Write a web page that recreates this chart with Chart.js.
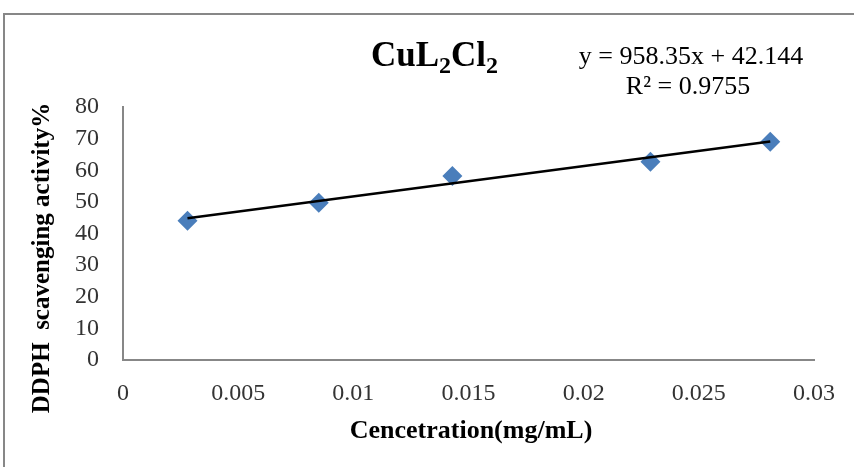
<!DOCTYPE html>
<html>
<head>
<meta charset="utf-8">
<script src="https://cdn.jsdelivr.net/npm/chart.js@4.4.1/dist/chart.umd.min.js"></script>
<style>
	html, body { margin: 0; padding: 0; background: #fff; }
	#wrap { position: relative; width: 854px; height: 467px; overflow: hidden; }
</style>
</head>
<body>
<div id="wrap"><canvas id="chart" width="854" height="467"></canvas></div>
<script>
// Values.
const concentrations = [ 0.0028, 0.0085, 0.0143, 0.0229, 0.0281 ];
const scavenging = [ 44.0, 49.7, 58.2, 62.7, 69.0 ];
const xTickValues = [ 0, 0.005, 0.01, 0.015, 0.02, 0.025, 0.03 ];
const yTickValues = [ 0, 10, 20, 30, 40, 50, 60, 70, 80 ];

// Trendline as printed on the chart.
const slope = 958.35;
const intercept = 42.144;
const equationText = 'y = 958.35x + 42.144';
const rSquaredText = 'R² = 0.9755';

const serif = "'Liberation Serif', 'Times New Roman', serif";
const axisGray = '#878787';
const markerBlue = '#4a7ebb';

const points = concentrations.map( ( x, i ) => ( { x: x, y: scavenging[ i ] } ) );
const xFirst = concentrations[ 0 ];
const xLast = concentrations[ concentrations.length - 1 ];
const trendPoints = [
	{ x: xFirst, y: slope * xFirst + intercept },
	{ x: xLast, y: slope * xLast + intercept }
];

// Frame and the texts Excel puts around the plot.
const decorPlugin = {
	id: 'decor',
	beforeDraw( chart ) {
		const ctx = chart.ctx;
		ctx.save();
		ctx.fillStyle = '#fff';
		ctx.fillRect( 0, 0, chart.width, chart.height );
		ctx.strokeStyle = axisGray;
		ctx.lineWidth = 2;
		ctx.beginPath();
		ctx.moveTo( 4, chart.height + 5 );
		ctx.lineTo( 4, 14 );
		ctx.lineTo( chart.width + 5, 14 );
		ctx.stroke();
		ctx.restore();
	},
	afterDraw( chart ) {
		const ctx = chart.ctx;
		ctx.save();
		ctx.fillStyle = '#000';
		ctx.textBaseline = 'alphabetic';

		// Title CuL2Cl2 with subscripts.
		const big = 'bold 35px ' + serif;
		const small = 'bold 24px ' + serif;
		let x = 371;
		const base = 66;
		const parts = [ [ 'CuL', big, 0 ], [ '2', small, 7 ], [ 'Cl', big, 0 ], [ '2', small, 7 ] ];
		parts.forEach( ( p ) => {
			ctx.font = p[ 1 ];
			ctx.textAlign = 'left';
			ctx.fillText( p[ 0 ], x, base + p[ 2 ] );
			x += ctx.measureText( p[ 0 ] ).width;
		} );

		// Trendline equation.
		ctx.font = '26px ' + serif;
		ctx.textAlign = 'center';
		ctx.fillText( equationText, 691, 64 );
		ctx.fillText( rSquaredText, 688, 94 );

		// Axis titles.
		ctx.font = 'bold 26px ' + serif;
		ctx.fillText( 'Cencetration(mg/mL)', 471, 438 );

		ctx.translate( 49, 258 );
		ctx.rotate( -Math.PI / 2 );
		ctx.font = 'bold 25px ' + serif;
		ctx.fillText( 'DDPH  scavenging activity%', 0, 0 );
		ctx.restore();
	}
};

new Chart( document.getElementById( 'chart' ), {
	type: 'scatter',
	data: {
		datasets: [
			{
				label: 'CuL2Cl2',
				data: points,
				order: 1,
				pointStyle: 'rectRot',
				pointRadius: 10,
				pointBackgroundColor: markerBlue,
				pointBorderColor: markerBlue,
				pointBorderWidth: 0
			},
			{
				type: 'line',
				label: 'Linear',
				data: trendPoints,
				order: 0,
				borderColor: '#000',
				borderWidth: 2.5,
				pointRadius: 0,
				fill: false
			}
		]
	},
	options: {
		responsive: false,
		animation: false,
		devicePixelRatio: 1,
		layout: {
			padding: { top: 107, right: 39, bottom: 0, left: 0 }
		},
		scales: {
			x: {
				type: 'linear',
				min: 0,
				max: 0.03,
				afterFit: ( scale ) => { scale.height = 107; },
				afterBuildTicks: ( scale ) => { scale.ticks = xTickValues.map( ( v ) => ( { value: v } ) ); },
				grid: { display: false, drawTicks: false },
				border: { color: axisGray, width: 2 },
				ticks: {
					autoSkip: false,
					maxRotation: 0,
					padding: 19,
					color: '#333',
					font: { family: serif, size: 24 },
					callback: ( v ) => String( +v.toFixed( 3 ) )
				}
			},
			y: {
				min: 0,
				max: 80,
				afterFit: ( scale ) => { scale.width = 123; },
				afterBuildTicks: ( scale ) => { scale.ticks = yTickValues.map( ( v ) => ( { value: v } ) ); },
				grid: { display: false, drawTicks: false },
				border: { color: axisGray, width: 2 },
				ticks: {
					autoSkip: false,
					padding: 24,
					color: '#333',
					font: { family: serif, size: 24 }
				}
			}
		},
		plugins: {
			legend: { display: false },
			tooltip: { enabled: false },
			title: { display: false }
		}
	},
	plugins: [ decorPlugin ]
} );
</script>
</body>
</html>
